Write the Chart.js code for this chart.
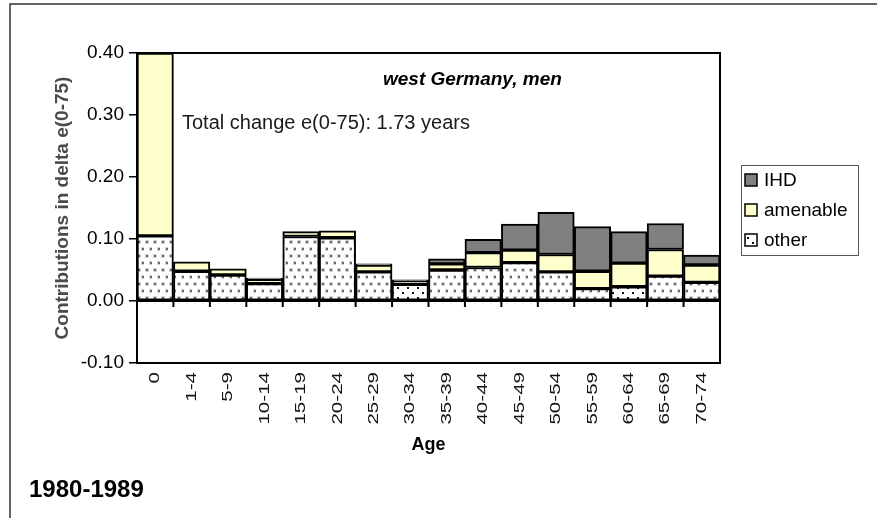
<!DOCTYPE html>
<html>
<head>
<meta charset="utf-8">
<script src="https://cdn.jsdelivr.net/npm/chart.js@4"></script>
<style>
  body { margin: 0; background: #fff; }
  canvas { display: block; }
</style>
</head>
<body>
<canvas id="chart" width="877" height="518"></canvas>
<script>
// age groups and contributions to the change in e(0-75), west Germany, men
const ages = ['0', '1-4', '5-9', '10-14', '15-19', '20-24', '25-29', '30-34',
              '35-39', '40-44', '45-49', '50-54', '55-59', '60-64', '65-69', '70-74'];
const other    = [0.105, 0.048, 0.042, 0.028, 0.104, 0.102, 0.047, 0.027,
                  0.050, 0.054, 0.062, 0.047, 0.020, 0.023, 0.040, 0.030];
const amenable = [0.295, 0.015, 0.010, 0.007, 0.008, 0.011, 0.011, 0.005,
                  0.010, 0.024, 0.020, 0.028, 0.028, 0.038, 0.043, 0.028];
const ihd      = [0, 0, 0, 0.002, 0, 0, 0.002, 0.002,
                  0.008, 0.0215, 0.042, 0.068, 0.072, 0.051, 0.042, 0.016];
const darkDots = [7, 13];   // bars whose "other" fill is printed with black dots

const FONT = 'Liberation Sans, Arial, sans-serif';

function makePattern(w, h, dots, color, size, halo) {
    const c = document.createElement('canvas');
    c.width = w; c.height = h;
    const g = c.getContext('2d');
    g.fillStyle = '#fff';
    g.fillRect(0, 0, w, h);
    dots.forEach(d => {
        if (halo) {
            g.fillStyle = halo;
            g.fillRect(d[0] - 1, d[1] - 1, size + 2, size + 2);
        }
        g.fillStyle = color;
        g.fillRect(d[0], d[1], size, size);
    });
    return g.createPattern(c, 'repeat');
}
const lightDots = makePattern(8, 14, [[2, 3], [6, 10]], '#666', 2, '#d4d4d4');
const blackDots = makePattern(10, 10, [[2, 2], [7, 7]], '#111', 2, null);
const otherFill = ages.map((a, i) => darkDots.includes(i) ? blackDots : lightDots);

const chartExtras = {
    id: 'chartExtras',
    afterDatasetsDraw(chart) {
        const {ctx, chartArea: a, scales: {x, y}} = chart;
        ctx.save();
        // plot frame
        ctx.strokeStyle = '#000';
        ctx.lineWidth = 2;
        ctx.strokeRect(a.left, a.top, a.right - a.left, a.bottom - a.top);
        // zero line with ticks between categories
        const y0 = y.getPixelForValue(0);
        ctx.beginPath();
        ctx.moveTo(a.left, y0);
        ctx.lineTo(a.right, y0);
        for (let i = 0; i <= ages.length; i++) {
            const bx = x.getPixelForValue(i - 0.5);
            ctx.moveTo(bx, y0);
            ctx.lineTo(bx, y0 + 6);
        }
        ctx.stroke();
        // rotated, stretched age labels
        ctx.fillStyle = '#111';
        ctx.font = '15px ' + FONT;
        ctx.textAlign = 'right';
        ctx.textBaseline = 'middle';
        ages.forEach((lab, i) => {
            ctx.save();
            ctx.translate(x.getPixelForValue(i), a.bottom + 9);
            ctx.rotate(-Math.PI / 2);
            ctx.scale(1.37, 1);
            ctx.fillText(lab, 0, 0);
            ctx.restore();
        });
        ctx.restore();
    },
    afterDraw(chart) {
        const {ctx} = chart;
        ctx.save();
        // outer frame of the figure
        ctx.strokeStyle = '#333';
        ctx.lineWidth = 1.5;
        ctx.beginPath();
        ctx.moveTo(10, 518);
        ctx.lineTo(10, 4);
        ctx.lineTo(877, 4);
        ctx.stroke();

        // texts
        ctx.fillStyle = '#000';
        ctx.textBaseline = 'middle';
        ctx.textAlign = 'left';
        ctx.font = 'italic bold 19px ' + FONT;
        ctx.fillText('west Germany, men', 383, 80);
        ctx.font = '20px ' + FONT;
        ctx.fillStyle = '#1a1a1a';
        ctx.fillText('Total change e(0-75): 1.73 years', 182, 123);
        ctx.fillStyle = '#000';
        ctx.font = 'bold 24px ' + FONT;
        ctx.fillText('1980-1989', 29, 490);

        // legend
        ctx.strokeStyle = '#555';
        ctx.lineWidth = 1;
        ctx.strokeRect(741.5, 165.5, 117, 90);
        const items = chart.data.datasets.slice().reverse();
        const rowY = [180, 210, 240];
        ctx.font = '19px ' + FONT;
        items.forEach((ds, k) => {
            const fill = ds.label === 'other' ? blackDots : ds.backgroundColor;
            ctx.fillStyle = fill;
            ctx.fillRect(745, rowY[k] - 6, 12, 12);
            ctx.strokeStyle = '#000';
            ctx.lineWidth = 1.5;
            ctx.strokeRect(745, rowY[k] - 6, 12, 12);
            ctx.fillStyle = '#000';
            ctx.fillText(ds.label, 764, rowY[k] + 1);
        });
        ctx.restore();
    }
};

new Chart(document.getElementById('chart'), {
    type: 'bar',
    plugins: [chartExtras],
    data: {
        labels: ages,
        datasets: [
            {label: 'other', data: other, backgroundColor: otherFill},
            {label: 'amenable', data: amenable, backgroundColor: '#ffffcc'},
            {label: 'IHD', data: ihd, backgroundColor: '#808080'}
        ]
    },
    options: {
        responsive: false,
        animation: false,
        layout: {padding: {top: 53, right: 157, bottom: 0, left: 0}},
        datasets: {
            bar: {
                categoryPercentage: 1,
                barPercentage: 1,
                borderColor: '#000',
                borderWidth: 2,
                borderSkipped: false
            }
        },
        scales: {
            x: {
                stacked: true,
                grid: {display: false},
                border: {display: false},
                ticks: {display: false},
                afterFit: s => { s.height = 155; },
                title: {
                    display: true,
                    text: 'Age',
                    color: '#000',
                    font: {family: FONT, size: 18, weight: 'bold'},
                    padding: {top: 0, bottom: 62}
                }
            },
            y: {
                stacked: true,
                min: -0.1,
                max: 0.4,
                afterFit: s => { s.width = 137; },
                ticks: {
                    stepSize: 0.1,
                    padding: 5,
                    color: '#000',
                    font: {family: FONT, size: 19},
                    callback: v => v.toFixed(2)
                },
                grid: {
                    drawOnChartArea: false,
                    drawTicks: true,
                    tickLength: 8,
                    color: '#000',
                    lineWidth: 1.5
                },
                border: {display: true, color: '#000', width: 2},
                title: {
                    display: true,
                    text: 'Contributions in delta e(0-75)',
                    color: '#4a4a4a',
                    font: {family: FONT, size: 19, weight: 'bold'},
                    padding: {top: 51, bottom: 0}
                }
            }
        },
        plugins: {
            legend: {display: false},
            tooltip: {enabled: false}
        }
    }
});
</script>
</body>
</html>
